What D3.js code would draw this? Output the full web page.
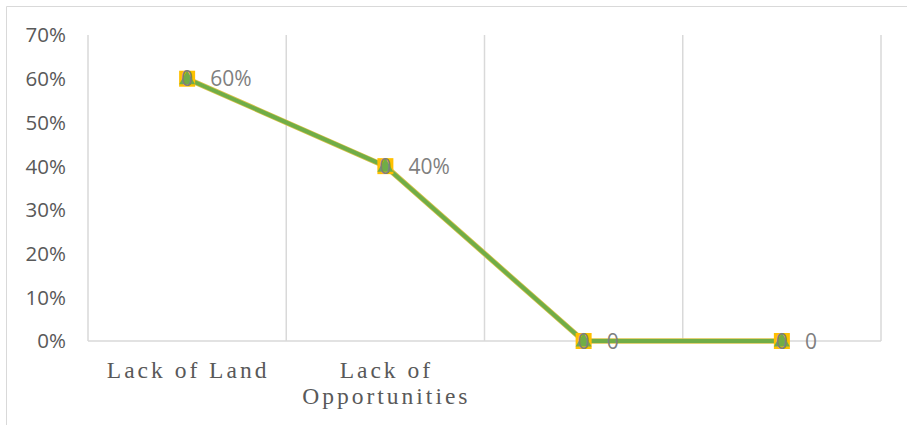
<!DOCTYPE html>
<html><head><meta charset="utf-8">
<script src="https://cdn.jsdelivr.net/npm/d3@7"></script>
<style>body{margin:0;background:#fff}svg{display:block}</style>
</head><body>
<svg id="c" width="907" height="425"></svg>
<script>
const categories = [["Lack of Land"], ["Lack of", "Opportunities"], [""], [""]];
const seriesA = [0.60, 0.40, 0, 0];   // orange squares
const seriesB = [0.60, 0.40, 0, 0];   // green triangles
const pointLabels = ["60%", "40%", "0", "0"];
const markerLabels = ["0", "0", "0", "0"];
const yTicks = [0, 0.1, 0.2, 0.3, 0.4, 0.5, 0.6, 0.7];

const svg = d3.select("#c");
const L = 88, R = 881, T = 35, B = 341;
svg.append("path").attr("d", `M6.5,425 V6.5 H907`).attr("fill", "none").attr("stroke", "#d9d9d9").attr("stroke-width", 1);

const x = d3.scaleBand().domain(d3.range(categories.length)).range([L, R]).padding(0);
const y = d3.scaleLinear().domain([0, 0.7]).range([B, T]);

const bounds = d3.range(categories.length + 1).map(i => i < categories.length ? x(i) : x(categories.length - 1) + x.bandwidth());
svg.append("g").selectAll("line").data(bounds).join("line")
  .attr("x1", d => d).attr("x2", d => d).attr("y1", T).attr("y2", B)
  .attr("stroke", "#d9d9d9").attr("stroke-width", 1.5);
svg.append("line").attr("x1", L).attr("x2", R).attr("y1", B).attr("y2", B)
  .attr("stroke", "#d9d9d9").attr("stroke-width", 1.5);

svg.append("g").selectAll("text").data(yTicks).join("text")
  .attr("x", 66).attr("y", d => y(d)).attr("dy", "0.36em").attr("text-anchor", "end")
  .attr("font-family", "Open Sans, sans-serif").attr("font-size", 20.5).attr("fill", "#595959")
  .text(d => d3.format(".0%")(d));

const cx = i => x(i) + x.bandwidth() / 2;
const cg = svg.append("g");
categories.forEach((lines, i) => {
  lines.forEach((t, j) => {
    cg.append("text").attr("x", cx(i) + 1).attr("y", 378 + j * 26).attr("text-anchor", "middle")
      .attr("font-family", "Liberation Serif, serif").attr("font-size", 23.5).attr("letter-spacing", "3px")
      .attr("fill", "#595959").text(t);
  });
});

const line = d3.line().x((d, i) => cx(i)).y(d => y(d));
svg.append("path").datum(seriesA).attr("d", line).attr("fill", "none").attr("stroke", "#d9c24a").attr("stroke-width", 5.5).attr("stroke-linejoin", "round");
svg.append("path").datum(seriesB).attr("d", line).attr("fill", "none").attr("stroke", "#70ad47").attr("stroke-width", 4).attr("stroke-linejoin", "round");

svg.append("g").selectAll("rect").data(seriesA).join("rect")
  .attr("x", (d, i) => cx(i) - 8).attr("y", d => y(d) - 8).attr("width", 16).attr("height", 16)
  .attr("fill", "#ffc000");
const tri = d3.symbol().type(d3.symbolTriangle).size(110);
svg.append("g").selectAll("path").data(seriesB).join("path")
  .attr("d", tri).attr("transform", (d, i) => `translate(${cx(i)},${y(d) + 1})`).attr("fill", "#70ad47");
svg.append("g").selectAll("text").data(seriesB).join("text")
  .attr("x", (d, i) => cx(i)).attr("y", d => y(d)).attr("dy", "0.36em").attr("text-anchor", "middle")
  .attr("font-family", "Open Sans, sans-serif").attr("font-size", 21).attr("fill", "#7f7f7f")
  .text((d, i) => markerLabels[i]);
svg.append("g").selectAll("text").data(seriesA).join("text")
  .attr("x", (d, i) => cx(i) + 23).attr("y", d => y(d)).attr("dy", "0.36em")
  .attr("font-family", "Open Sans, sans-serif").attr("font-size", 21).attr("fill", "#7f7f7f")
  .text((d, i) => pointLabels[i]);
</script>
</body></html>
